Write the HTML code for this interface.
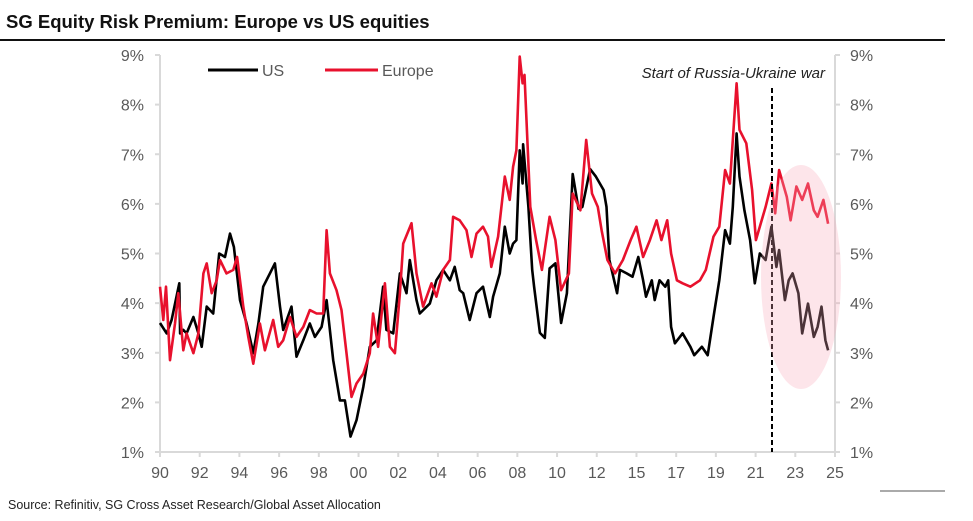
<!DOCTYPE html>
<html><head><meta charset="utf-8"><style>
body{margin:0;background:#fff;width:973px;height:521px;overflow:hidden;font-family:"Liberation Sans",sans-serif}
svg{display:block}
</style></head><body>
<svg id="c" width="973" height="521">
<text x="6" y="28" font-size="18.5" font-weight="bold" fill="#111">SG Equity Risk Premium: Europe vs US equities</text>
<line x1="0" y1="40" x2="945" y2="40" stroke="#111" stroke-width="2"/>
<line x1="880" y1="491" x2="945" y2="491" stroke="#555" stroke-width="1"/>
<text x="8" y="509" font-size="12.5" fill="#222">Source: Refinitiv, SG Cross Asset Research/Global Asset Allocation</text>
<g id="axes"></g>
<g id="series"></g>
<line x1="772" y1="88" x2="772" y2="452" stroke="#000" stroke-width="2" stroke-dasharray="5,3"/>
<ellipse cx="801" cy="277" rx="40" ry="112" fill="#f7a8b8" fill-opacity="0.3"/>
<text x="825" y="78" font-size="15" font-style="italic" fill="#222" text-anchor="end">Start of Russia-Ukraine war</text>
<line x1="208" y1="70" x2="258" y2="70" stroke="#000" stroke-width="3"/>
<text x="262" y="76" font-size="16" fill="#595959">US</text>
<line x1="325" y1="70" x2="378" y2="70" stroke="#e8112d" stroke-width="3"/>
<text x="382" y="76" font-size="16" fill="#595959">Europe</text>
</svg>
<script>
const xTickLabels=["90","92","94","96","98","00","02","04","06","08","10","12","15","17","19","21","23","25"];
const yTickValues=[1,2,3,4,5,6,7,8,9];
const usYears=[1990.0,1990.35,1990.6,1991.0,1991.04,1991.21,1991.38,1991.73,1991.99,1992.16,1992.42,1992.76,1993.07,1993.37,1993.63,1993.83,1994.15,1994.49,1994.84,1995.1,1995.35,1995.7,1995.96,1996.22,1996.39,1996.82,1997.08,1997.43,1997.77,1998.03,1998.38,1998.64,1998.98,1999.33,1999.59,1999.88,2000.19,2000.54,2000.88,2001.23,2001.57,2001.74,2002.09,2002.44,2002.78,2002.95,2003.3,2003.47,2003.99,2004.33,2004.68,2005.03,2005.28,2005.54,2005.72,2006.06,2006.41,2006.75,2007.1,2007.27,2007.62,2007.88,2008.13,2008.31,2008.48,2008.65,2008.8,2008.83,2009.1,2009.3,2009.4,2009.7,2009.95,2010.2,2010.5,2010.8,2011.1,2011.4,2011.7,2011.9,2012.3,2012.6,2013.0,2013.15,2013.3,2013.7,2013.85,2014.2,2014.5,2014.8,2015.05,2015.2,2015.5,2015.65,2015.9,2016.2,2016.35,2016.5,2016.7,2017.1,2017.5,2017.7,2018.1,2018.4,2018.7,2019.0,2019.3,2019.55,2019.7,2019.9,2020.05,2020.3,2020.6,2020.84,2021.1,2021.4,2021.7,2021.96,2022.1,2022.4,2022.6,2022.8,2023.1,2023.3,2023.6,2023.9,2024.1,2024.3,2024.5,2024.64];
const usValues=[3.6,3.39,3.66,4.4,3.39,3.46,3.39,3.72,3.39,3.12,3.93,3.79,5.0,4.93,5.4,5.13,4.06,3.59,2.99,3.59,4.33,4.6,4.8,3.93,3.46,3.93,2.92,3.25,3.59,3.32,3.52,4.06,2.85,2.04,2.04,1.31,1.64,2.31,3.12,3.25,4.33,3.46,3.39,4.6,4.2,4.87,4.06,3.79,3.99,4.46,4.67,4.46,4.73,4.26,4.2,3.66,4.2,4.33,3.72,4.13,4.6,5.54,5.0,5.2,5.27,7.08,6.41,7.2,5.94,4.67,4.33,3.4,3.3,4.7,4.8,3.6,4.2,6.6,5.9,5.94,6.7,6.55,6.28,5.94,4.87,4.2,4.67,4.6,4.53,4.93,4.46,4.13,4.46,4.06,4.46,4.33,4.46,3.52,3.19,3.39,3.12,2.95,3.12,2.95,3.72,4.46,5.47,5.2,5.94,7.42,6.55,5.87,5.27,4.4,5.0,4.87,5.54,4.73,5.07,4.06,4.46,4.6,4.2,3.39,3.99,3.32,3.52,3.93,3.25,3.05];
const euYears=[1990.0,1990.17,1990.31,1990.52,1990.78,1990.95,1991.21,1991.38,1991.73,1991.99,1992.25,1992.42,1992.68,1992.94,1993.11,1993.45,1993.8,1994.0,1994.32,1994.58,1994.84,1995.18,1995.44,1995.87,1996.13,1996.39,1996.74,1997.08,1997.43,1997.77,1998.12,1998.46,1998.64,1998.81,1999.15,1999.41,1999.67,1999.93,2000.19,2000.54,2000.88,2001.05,2001.31,2001.66,2001.92,2002.18,2002.44,2002.61,2003.04,2003.3,2003.64,2004.08,2004.33,2004.68,2005.03,2005.2,2005.54,2005.89,2006.15,2006.41,2006.75,2007.01,2007.18,2007.53,2007.88,2008.13,2008.31,2008.48,2008.65,2008.8,2008.9,2009.2,2009.5,2009.8,2010.2,2010.5,2010.8,2011.2,2011.4,2011.8,2012.1,2012.4,2012.7,2012.9,2013.2,2013.6,2014.0,2014.4,2014.7,2015.05,2015.4,2015.75,2016.0,2016.3,2016.5,2016.8,2017.1,2017.5,2018.0,2018.3,2018.7,2019.0,2019.3,2019.55,2019.9,2020.05,2020.4,2020.7,2020.9,2021.1,2021.4,2021.7,2021.9,2022.1,2022.5,2022.7,2023.0,2023.3,2023.6,2023.9,2024.1,2024.4,2024.64];
const euValues=[4.33,3.66,4.33,2.85,3.59,4.2,3.05,3.39,2.99,3.39,4.6,4.8,4.2,4.46,4.87,4.6,4.67,4.93,3.93,3.32,2.78,3.59,3.05,3.66,3.12,3.25,3.72,3.32,3.52,3.86,3.79,3.79,5.47,4.6,4.26,3.86,2.99,2.11,2.38,2.58,2.99,3.79,3.12,4.4,3.12,2.99,4.2,5.2,5.61,4.6,3.93,4.4,4.13,4.67,4.87,5.74,5.67,5.47,4.93,5.4,5.54,5.34,4.73,5.34,6.55,6.08,6.75,7.08,8.97,8.43,8.6,5.94,5.27,4.67,5.74,5.27,4.26,4.6,6.21,5.87,7.29,6.21,5.94,5.47,4.87,4.6,4.87,5.27,5.54,4.93,5.27,5.67,5.27,5.67,5.0,4.46,4.4,4.33,4.46,4.67,5.34,5.54,6.68,6.41,8.43,7.49,7.22,6.28,5.27,5.54,5.94,6.41,5.81,6.68,6.14,5.67,6.35,6.08,6.41,5.87,5.74,6.08,5.6];

const L=160,R=835,T=55,B=452;
const xScale=y=>L+(y-1990)/35*(R-L);
const yScale=v=>B-(v-1)/8*(B-T);
const NS="http://www.w3.org/2000/svg";
const ax=document.getElementById('axes'), sg=document.getElementById('series');
function mk(tag,attrs,parent){const e=document.createElementNS(NS,tag);for(const k in attrs)e.setAttribute(k,attrs[k]);parent.appendChild(e);return e;}
let e;
e=mk('line',{x1:L,y1:T,x2:L,y2:B,stroke:'#d9d9d9','stroke-width':2},ax);


e=mk('line',{x1:R,y1:T,x2:R,y2:B,stroke:'#d9d9d9','stroke-width':2},ax);


e=mk('line',{x1:L,y1:B,x2:R,y2:B,stroke:'#d9d9d9','stroke-width':2},ax);


yTickValues.forEach(v=>{
  const y=yScale(v);
  mk('line',{x1:L-5,y1:y,x2:L,y2:y,stroke:'#d9d9d9','stroke-width':2},ax);
  mk('line',{x1:R,y1:y,x2:R+5,y2:y,stroke:'#d9d9d9','stroke-width':2},ax);
  e=mk('text',{x:L-16,y:y+6,'font-size':16,fill:'#595959','text-anchor':'end'},ax);e.textContent=v+'%';
  
  
  e=mk('text',{x:R+15,y:y+6,'font-size':16,fill:'#595959'},ax);e.textContent=v+'%';
  
  
});
xTickLabels.forEach((lab,i)=>{
  const x=L+i*(R-L)/(xTickLabels.length-1);
  mk('line',{x1:x,y1:B,x2:x,y2:B+5,stroke:'#d9d9d9','stroke-width':2},ax);
  e=mk('text',{x:x,y:B+26,'font-size':16,fill:'#595959','text-anchor':'middle'},ax);e.textContent=lab;
  
  
});
function pts(ys,vs){return ys.map((y,i)=>xScale(y).toFixed(1)+','+yScale(vs[i]).toFixed(1)).join(' ');}
e=mk('polyline',{points:pts(usYears,usValues),fill:'none',stroke:'#000','stroke-width':2.6,'stroke-linejoin':'round'},sg);


e=mk('polyline',{points:pts(euYears,euValues),fill:'none',stroke:'#e8112d','stroke-width':2.6,'stroke-linejoin':'round'},sg);


</script>
</body></html>
